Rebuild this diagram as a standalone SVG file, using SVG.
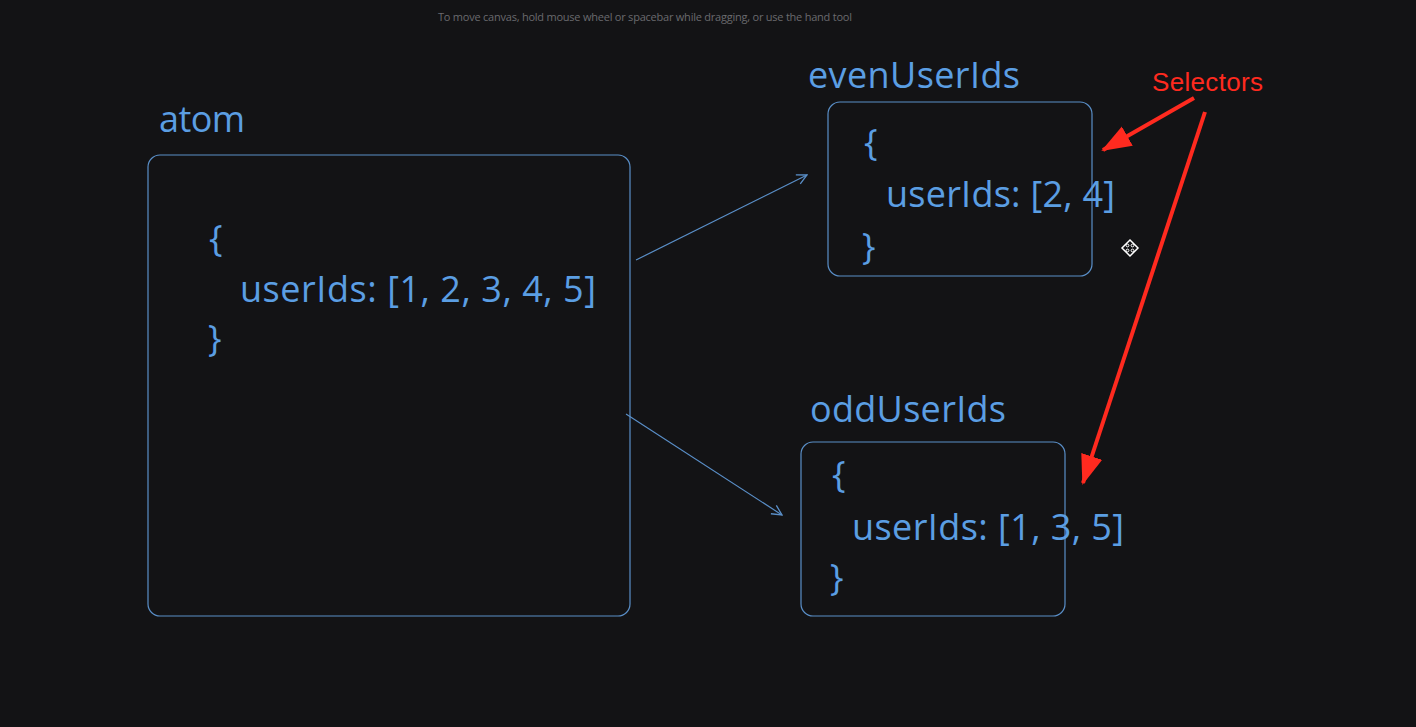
<svg xmlns="http://www.w3.org/2000/svg" width="1416" height="727" viewBox="0 0 1416 727">
<defs>
<style>
.bg{fill:#131315}
.box{fill:#131315;stroke:#5a8fc8;stroke-width:1.2}
.lbl{font-family:"Open Sans","Liberation Sans",sans-serif;font-size:36px;font-weight:500;fill:#5b9ee3}
.code{font-family:"Open Sans","Liberation Sans",sans-serif;font-size:36px;font-weight:500;fill:#5b9ee3}
.conn{stroke:#5a8fc8;stroke-width:1.2;fill:none}
.red{stroke:#ff2a1f;stroke-width:4;fill:none}
.hint{font-family:"Open Sans","Liberation Sans",sans-serif;font-size:11px;fill:#6a6a6e}
.sel{font-family:"Liberation Sans",Arial,sans-serif;font-size:26px;fill:#ff2a1f}
</style>
<marker id="open" viewBox="0 0 12 12" refX="11" refY="6" markerWidth="12" markerHeight="12" markerUnits="userSpaceOnUse" orient="auto">
<path d="M1,1 L11,6 L1,11" fill="none" stroke="#5a8fc8" stroke-width="1.3"/>
</marker>
<marker id="redhead" viewBox="0 0 30 30" refX="28" refY="15" markerWidth="30" markerHeight="30" markerUnits="userSpaceOnUse" orient="auto">
<path d="M0,4 L30,15 L0,26 Z" fill="#ff2a1f"/>
</marker>
</defs>
<rect class="bg" x="0" y="0" width="1416" height="727"/>
<text class="hint" x="438" y="21" textLength="414">To move canvas, hold mouse wheel or spacebar while dragging, or use the hand tool</text>

<g id="atom">
<text class="lbl" x="159" y="132" textLength="86">atom</text>
<rect class="box" x="148" y="155" width="482" height="461" rx="12"/>
<text class="code" x="209" y="251">{</text>
<text class="code" x="240" y="302" textLength="356">userIds: [1, 2, 3, 4, 5]</text>
<text class="code" x="208" y="351">}</text>
</g>

<g id="evenUserIds">
<text class="lbl" x="808" y="88" textLength="212">evenUserIds</text>
<rect class="box" x="828" y="102" width="264" height="174" rx="12"/>
<text class="code" x="864" y="155">{</text>
<text class="code" x="886" y="207" textLength="229">userIds: [2, 4]</text>
<text class="code" x="862" y="259">}</text>
</g>

<g id="oddUserIds">
<text class="lbl" x="810" y="422" textLength="196">oddUserIds</text>
<rect class="box" x="801" y="442" width="264" height="174" rx="12"/>
<text class="code" x="832" y="487">{</text>
<text class="code" x="852" y="540" textLength="272">userIds: [1, 3, 5]</text>
<text class="code" x="830" y="590">}</text>
</g>

<g id="selectors">
<text class="sel" x="1152" y="91" textLength="111">Selectors</text>
</g>

<g id="connectors">
<line class="conn" x1="636" y1="260" x2="807" y2="175" marker-end="url(#open)"/>
<line class="conn" x1="626" y1="414" x2="782" y2="515" marker-end="url(#open)"/>
<line class="red" x1="1194" y1="98" x2="1103" y2="150" marker-end="url(#redhead)"/>
<line class="red" x1="1205" y1="112" x2="1083" y2="483" marker-end="url(#redhead)"/>
</g>

<g id="cursor" transform="translate(1130,248)">
<path d="M0,-8 L8,0 L0,8 L-8,0 Z" fill="#131315" stroke="#ffffff" stroke-width="1.5"/>
<circle cx="-2.5" cy="-2.5" r="1.4" fill="none" stroke="#fff" stroke-width="1"/>
<circle cx="2.5" cy="-2.5" r="1.4" fill="none" stroke="#fff" stroke-width="1"/>
<circle cx="-2.5" cy="2.5" r="1.4" fill="none" stroke="#fff" stroke-width="1"/>
<circle cx="2.5" cy="2.5" r="1.4" fill="none" stroke="#fff" stroke-width="1"/>
</g>
</svg>
